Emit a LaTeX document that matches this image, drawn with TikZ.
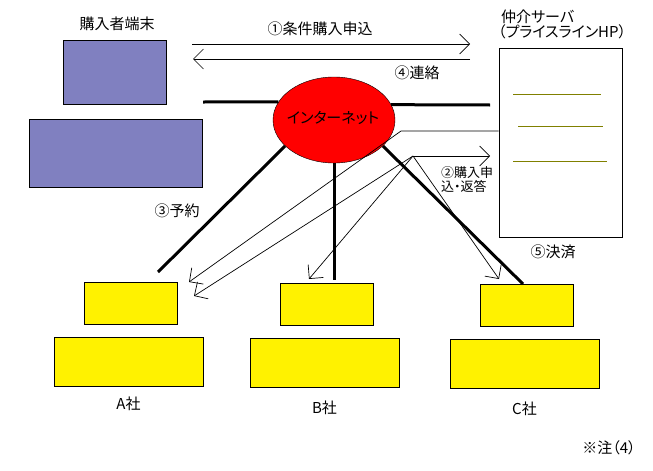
\documentclass[tikz,border=0pt]{standalone}
\usepackage{fontspec}
\setmainfont{Noto Sans CJK JP}[RawFeature={+palt}]
\usetikzlibrary{shapes.geometric,arrows.meta,positioning}
\definecolor{pcblue}{RGB}{128,128,192}
\definecolor{hpline}{RGB}{128,128,0}

\begin{document}
\begin{tikzpicture}[x=1pt,y=-1pt,font=\fontsize{15}{17}\selectfont]
        \tikzstyle{every node}=[inner sep=0pt]
        \tikzstyle{box}=[draw,line width=0.8pt]
        \tikzstyle{pcbox}=[box,fill=pcblue]
        \tikzstyle{cobox}=[box,fill=yellow,minimum width=93pt,minimum height=42pt]
        \tikzstyle{cobig}=[box,fill=yellow,minimum width=149pt,minimum height=49pt]
        \tikzstyle{link}=[line width=3pt]
        \tikzstyle{msg}=[line width=0.7pt,-{Straight Barb[length=10pt,width=20pt]}]
        \useasboundingbox (0,0) rectangle (653,471);
        % purchaser
        \node[pcbox,minimum width=103pt,minimum height=64pt] (pc1) at (114.5,72) {};
        \node[pcbox,minimum width=173pt,minimum height=68pt] (pc2) at (115.5,153) {};
        \node (pclbl) at (117,24) {購入者端末};
        % server
        \node[box,fill=white,minimum width=123pt,minimum height=189pt] (srv) at (560.5,142.5) {};
        \node[anchor=west] (srvlbl) at (501,17) {仲介サーバ};
        \node[anchor=west] (srvsub) at (498,32) {（プライスラインHP）};
        \draw[hpline,line width=0.8pt] (513,94) -- (601,94) (518,126) -- (603,126) (513,161) -- (607,161);
        % companies
        \node[cobox] (as) at (130.5,303) {};
        \node[cobig,below=13pt of as,xshift=-2pt] (ab) {};
        \node[below=9pt of ab] (albl) {A社};
        \node[cobox] (bs) at (326.5,304) {};
        \node[cobig,below=13pt of bs,xshift=-2pt] (bb) {};
        \node[below=12pt of bb] (blbl) {B社};
        \node[cobox] (cs) at (526.5,305) {};
        \node[cobig,below=13pt of cs,xshift=-2pt] (cb) {};
        \node[below=12pt of cb] (clbl) {C社};
        \node (note) at (609,448) {※注（4）};
        % internet
        \node[ellipse,draw,fill=red,minimum width=122pt,minimum height=86pt] (net) at (334,120) {};
        \node (netlbl) at (333,118) {インターネット};
        \coordinate (lstub) at (203,102);
        \coordinate (rstub) at (490,105);
        \coordinate (aend) at (158,272);
        \coordinate (cend) at (523,284);
        \draw[link] (net.162) -- (lstub);
        \draw[link] (net.15) -- (rstub);
        \draw[link] (net.208) -- (aend);
        \draw[link] (net.south) -- ([yshift=3pt]net.south |- bs.north);
        \draw[link] (net.-28) -- (cend);
        % messages
        \coordinate (reqL) at (192,44);
        \coordinate (reqR) at (470,44);
        \coordinate (repL) at (193,59);
        \coordinate (repR) at (470,59);
        \draw[msg] (reqL) -- (reqR);
        \draw[msg] (repR) -- (repL);
        \node (req) at (320,29) {①条件購入申込};
        \node (rep) at (417,73) {④連絡};
        \coordinate (bend) at (401,131);
        \coordinate (hub) at (413,156);
        \coordinate (hubR) at (490,156);
        \coordinate (tipA1) at (189,282);
        \coordinate (tipA2) at (194,296);
        \coordinate (tipB) at (309,279);
        \coordinate (tipC) at (499,279);
        \draw[msg] (srv.west |- bend) -- (bend) -- (tipA1);
        \draw[msg] (hub) -- (hubR);
        \draw[msg] (hub) -- (tipA2);
        \draw[msg] (hub) -- (tipB);
        \draw[msg] (hub) -- (tipC);
        \node[anchor=west,align=left,font=\fontsize{13}{14}\selectfont] (buy) at (441,180) {②購入申\\込・返答};
        \node (rsv) at (177,211) {③予約};
        \node (pay) at (553,252) {⑤決済};
    \end{tikzpicture}
\end{document}
